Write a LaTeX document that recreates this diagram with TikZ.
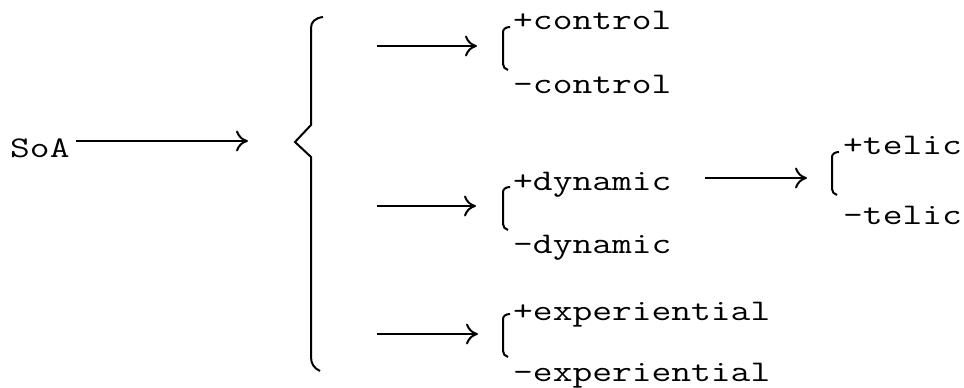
\documentclass[tikz,border=0pt]{standalone}
\usepackage{fontspec}
\newfontfamily\typer[FakeStretch=1.28]{Latin Modern Mono}
\usetikzlibrary{arrows.meta}
\tikzset{
  lbl/.style={inner sep=0pt, anchor=base west, font=\typer\fontsize{30}{34}\selectfont},
  arr/.style={line width=2pt, -{Computer Modern Rightarrow[length=12pt,width=21pt]}},
  brk/.style={line width=2pt},
  pmbrack/.pic={\draw[brk] (7,-1) .. controls (3,-1) and (0,1) .. (0,4) -- (0,36) .. controls (0,39) and (2,41) .. (5,42);}
}
\begin{document}
\begin{tikzpicture}[x=1pt, y=-1pt]
    \useasboundingbox (0,0) rectangle (964,388);
    \node[lbl] (soa) at (10,157) {SoA};
    \coordinate (soaend) at (248,141);
    \draw[arr, shorten <=6pt] (soa.east |- soaend) -- (soaend);
    % brace
    \draw[brk] (323,17) .. controls (315,18) and (311,22) .. (311,28) -- (311,125) -- (295,142) -- (311,157) -- (311,357) .. controls (311,364) and (314,368) .. (320,371);
    \coordinate (c1) at (377,46);
    \coordinate (k1) at (477,46);
    \coordinate (c2) at (377,206);
    \coordinate (k2) at (476,206);
    \coordinate (c3) at (377,334);
    \coordinate (k3) at (478,334);
    \draw[arr] (c1) -- (k1);
    \draw[arr] (c2) -- (k2);
    \draw[arr] (c3) -- (k3);
    % pairs
    \pic at (503,28) {pmbrack};
    \node[lbl] (pctl) at (513,29) {+control};
    \node[lbl] (mctl) at (513,93) {-control};
    \pic at (503,188) {pmbrack};
    \node[lbl] (pdyn) at (513,190) {+dynamic};
    \node[lbl] (mdyn) at (513,253) {-dynamic};
    \pic at (503,315) {pmbrack};
    \node[lbl] (pexp) at (513,320) {+experiential};
    \node[lbl] (mexp) at (513,381) {-experiential};
    \coordinate (tel) at (807,178);
    \draw[arr, shorten <=33pt] (pdyn.east |- tel) -- (tel);
    \pic at (832,153) {pmbrack};
    \node[lbl] (ptel) at (843,154) {+telic};
    \node[lbl] (mtel) at (843,224) {-telic};
\end{tikzpicture}
\end{document}
